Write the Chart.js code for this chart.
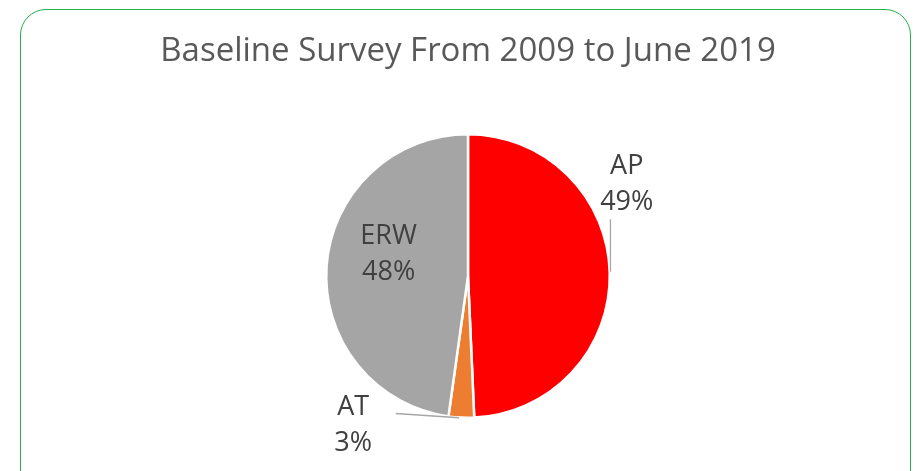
<!DOCTYPE html>
<html>
<head>
<meta charset="utf-8">
<script src="https://cdn.jsdelivr.net/npm/chart.js@4"></script>
<style>
    html, body { margin: 0; padding: 0; background: #ffffff; }
    #wrap { position: relative; width: 917px; height: 471px; overflow: hidden; }
    #frame {
        position: absolute; left: 20px; top: 9px; width: 891px; height: 500px;
        border: 1.5px solid #22b14c; border-radius: 26px; box-sizing: border-box;
    }
    #grafico { position: absolute; left: 0; top: 0; }
</style>
</head>
<body>
<div id="wrap">
    <div id="frame"></div>
    <canvas id="grafico" width="917" height="471"></canvas>
</div>
<script>
// Dados do gráfico
const titulo = 'Baseline Survey From 2009 to June 2019';
const categorias = ['AP', 'AT', 'ERW'];
const valores = [49.3, 2.9, 47.8];
const rotulosPct = ['49%', '3%', '48%'];
const cores = ['#ff0000', '#ed7d31', '#a5a5a5'];

// Posição dos rótulos em unidades de raio (relativo ao centro)
const posRotulos = [
    { x: 1.12, y: -0.65, linha: [[1.005, -0.40], [1.005, -0.03]] },
    { x: -0.81, y: 1.05, linha: [[-0.51, 0.97], [-0.063, 1.0]] },
    { x: -0.56, y: -0.15, linha: null }
];

const fonte = '"Open Sans", "Liberation Sans", sans-serif';

// Plugin para título e rótulos
const rotulosPlugin = {
    id: 'rotulos',
    afterDraw(chart) {
        const ctx = chart.ctx;
        const arco = chart.getDatasetMeta(0).data[0];
        const cx = arco.x, cy = arco.y, r = arco.outerRadius;

        ctx.save();
        ctx.fillStyle = '#595959';
        ctx.font = '33px ' + fonte;
        ctx.textAlign = 'center';
        ctx.textBaseline = 'middle';
        ctx.fillText(titulo, 468, 52);

        ctx.font = '27px ' + fonte;
        ctx.fillStyle = '#404040';
        categorias.forEach((cat, i) => {
            const p = posRotulos[i];
            const lx = cx + p.x * r, ly = cy + p.y * r;
            ctx.fillText(cat, lx, ly - 18);
            ctx.fillText(rotulosPct[i], lx, ly + 18);
            if (p.linha) {
                ctx.strokeStyle = '#a6a6a6';
                ctx.lineWidth = 1.3;
                ctx.beginPath();
                ctx.moveTo(cx + p.linha[0][0] * r, cy + p.linha[0][1] * r);
                ctx.lineTo(cx + p.linha[1][0] * r, cy + p.linha[1][1] * r);
                ctx.stroke();
            }
        });
        ctx.restore();
    }
};

const ctxGrafico = document.getElementById('grafico').getContext('2d');
const grafico = new Chart(ctxGrafico, {
    type: 'pie',
    data: {
        labels: categorias,
        datasets: [{
            data: valores,
            backgroundColor: cores,
            borderColor: '#ffffff',
            borderWidth: 2.5
        }]
    },
    options: {
        responsive: false,
        animation: false,
        layout: { padding: { top: 133, bottom: 52, left: 200, right: 181 } },
        plugins: {
            legend: { display: false },
            tooltip: { enabled: false },
            title: { display: false }
        }
    },
    plugins: [rotulosPlugin]
});
</script>
</body>
</html>
